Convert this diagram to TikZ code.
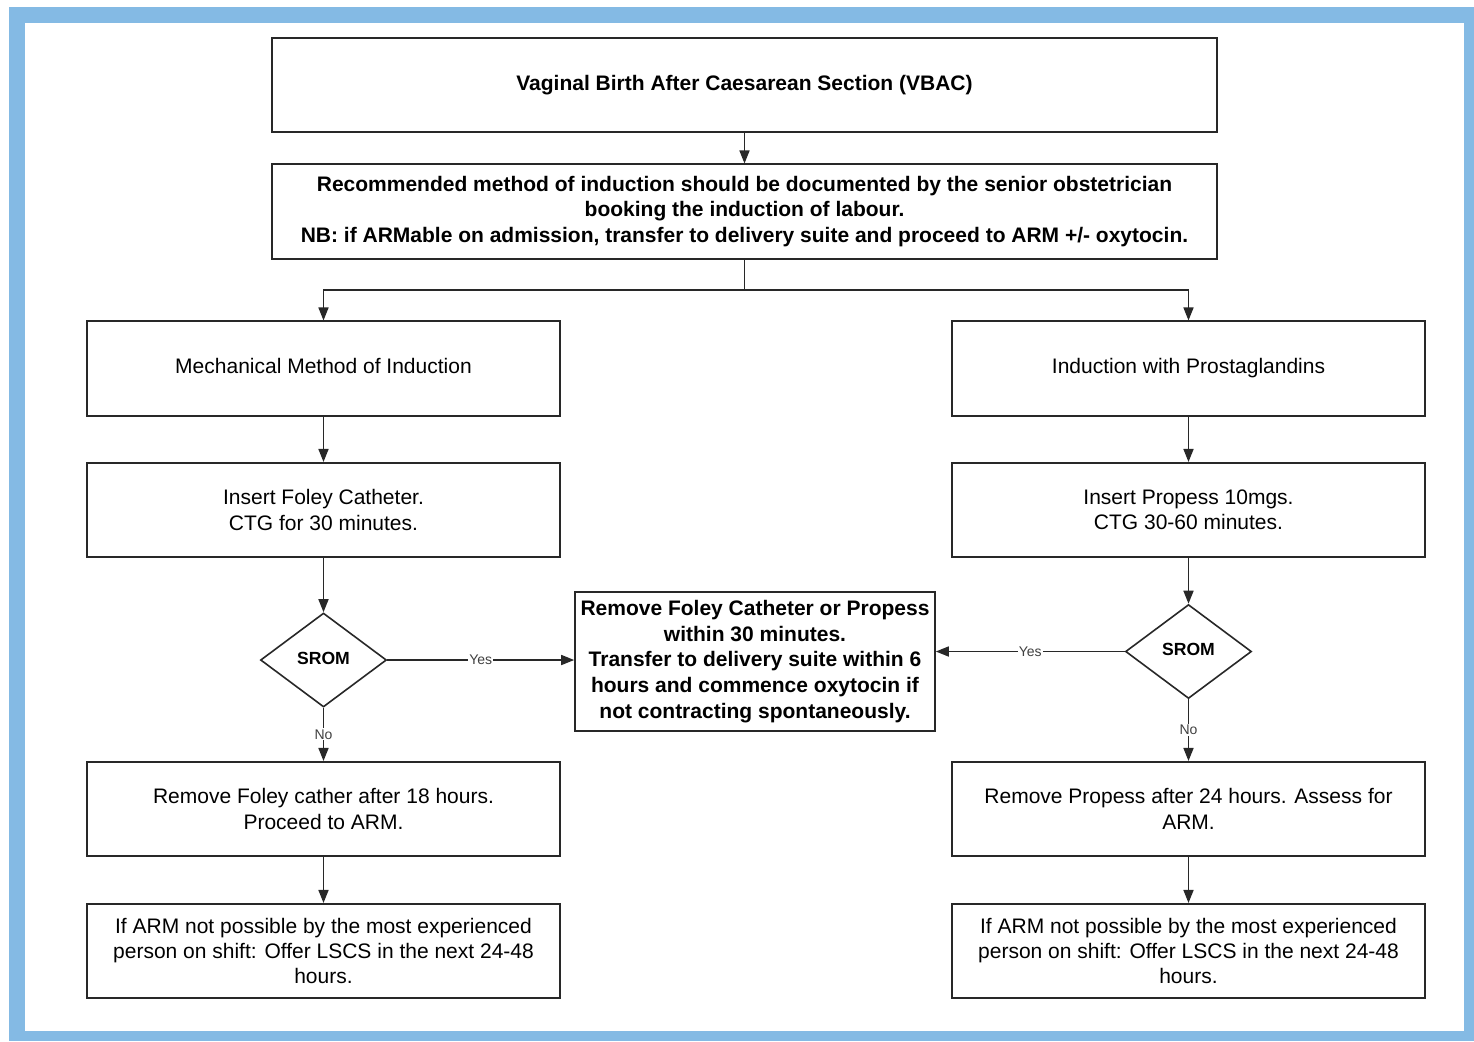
\documentclass[tikz,border=0pt]{standalone}
\usepackage{fontspec}
\setmainfont{Liberation Sans}
\usetikzlibrary{shapes.geometric,arrows.meta}
\definecolor{frameblue}{RGB}{132,186,228}
\definecolor{linegray}{RGB}{40,40,40}
\begin{document}
\begin{tikzpicture}[x=0.5pt,y=-0.5pt,
  txt/.style={font=\fontsize{10.5}{12.7}\selectfont},
  box/.style={draw=linegray, line width=0.8pt, align=center, inner sep=0pt, txt},
  wide/.style={box, minimum width=472.5pt, minimum height=47.25pt},
  col/.style={box, minimum width=236.5pt, minimum height=47.25pt},
  dec/.style={draw=linegray, line width=0.8pt, diamond, inner sep=0pt, minimum width=63pt, minimum height=47pt, font=\bfseries\fontsize{8.8}{10}\selectfont},
  conn/.style={draw=linegray, line width=0.8pt},
  arr/.style={conn, -{Triangle[length=6.5pt,width=5pt]}},
  lab/.style={fill=white, inner sep=0.6pt, text=black!75, font=\fontsize{7}{8}\selectfont}]
\useasboundingbox (0,0) rectangle (1474,1041);
\fill[white] (0,0) rectangle (1474,1041);
\fill[frameblue] (9,7) rectangle (1474,1041);
\fill[white] (25,23) rectangle (1464,1031);

\node[wide, font=\bfseries\fontsize{10.5}{12.7}\selectfont] (title) at (744.5,85) {Vaginal Birth After Caesarean Section (VBAC)};
\node[wide, font=\bfseries\fontsize{10.5}{12.7}\selectfont] (rec) at (744.5,211.5) {Recommended method of induction should be documented by the senior obstetrician\\booking the induction of labour.\\NB: if ARMable on admission, transfer to delivery suite and proceed to ARM +/- oxytocin.};

\node[col] (mech) at (323.5,368.5) {Mechanical Method of Induction\vphantom{g}};
\node[col] (prost) at (1188.5,368.5) {Induction with Prostaglandins};
\node[col] (foley) at (323.5,510) {Insert Foley Catheter.\\CTG for 30 minutes.};
\node[col] (propess) at (1188.5,510) {Insert Propess 10mgs.\\CTG 30-60 minutes.};
\node[dec] (srom1) at (323.5,660) {SROM\vphantom{g}};
\node[dec] (srom2) at (1188.5,651.5) {SROM\vphantom{g}};
\node[box, minimum width=180pt, minimum height=69.5pt, font=\bfseries\fontsize{10.5}{12.8}\selectfont] (centre) at (755,661.5) {Remove Foley Catheter or Propess\\within 30 minutes.\\Transfer to delivery suite within 6\\hours and commence oxytocin if\\not contracting spontaneously.};
\node[col] (rem1) at (323.5,809) {Remove Foley cather after 18 hours.\\Proceed to ARM.};
\node[col] (rem2) at (1188.5,809) {Remove Propess after 24 hours. Assess for\\ARM.};
\node[col] (arm1) at (323.5,951) {If ARM not possible by the most experienced\\person on shift: Offer LSCS in the next 24-48\\hours.};
\node[col] (arm2) at (1188.5,951) {If ARM not possible by the most experienced\\person on shift: Offer LSCS in the next 24-48\\hours.};

\coordinate (split) at (744.5,290);
\draw[arr] (title) -- (rec);
\draw[conn] (rec.south) -- (split);
\draw[arr] (split) -| (mech.north);
\draw[arr] (split) -| (prost.north);
\draw[arr] (mech) -- (foley);
\draw[arr] (prost) -- (propess);
\draw[arr] (foley) -- (srom1.north);
\draw[arr] (propess) -- (srom2.north);
\draw[arr] (srom1.east) -- node[lab] {Yes} (srom1.east -| centre.west);
\draw[arr] (srom2.west) -- node[lab] {Yes} (srom2.west -| centre.east);
\draw[arr] (srom1.south) -- node[lab] {No} (rem1.north);
\draw[arr] (srom2.south) -- node[lab] {No} (rem2.north);
\draw[arr] (rem1) -- (arm1);
\draw[arr] (rem2) -- (arm2);
\end{tikzpicture}
\end{document}
